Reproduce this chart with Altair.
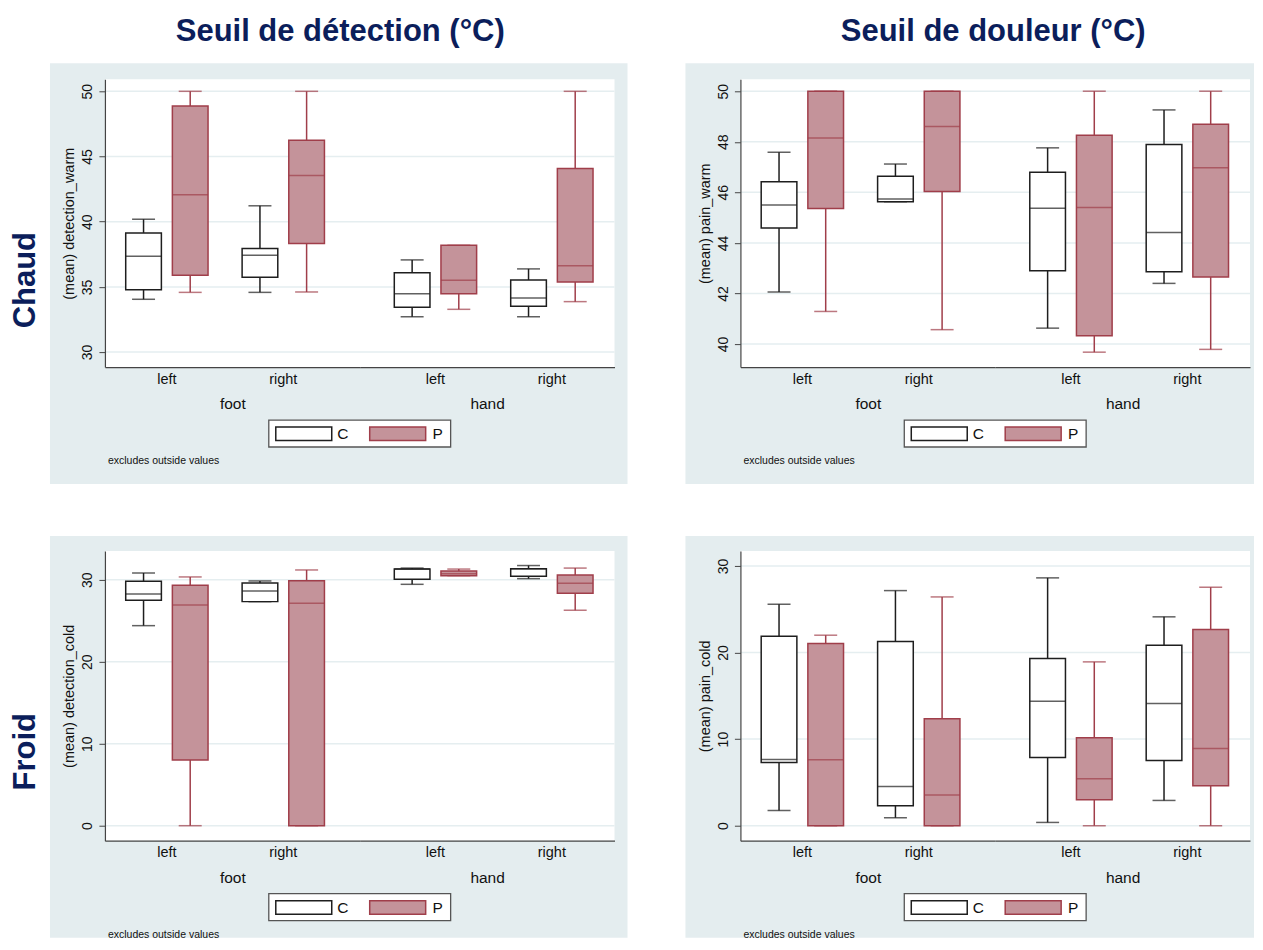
import altair as alt
import pandas as pd

# ---------------- data ----------------
sites = ["foot", "foot", "foot", "foot", "hand", "hand", "hand", "hand"]
sides = ["left", "left", "right", "right", "left", "left", "right", "right"]
groups = ["C", "P", "C", "P", "C", "P", "C", "P"]

# Seuil de détection – chaud : (mean) detection_warm
dw_lo = [34.05, 34.58, 34.58, 34.61, 32.71, 33.28, 32.71, 33.87]
dw_q1 = [34.79, 35.89, 35.74, 38.32, 33.43, 34.48, 33.51, 35.38]
dw_med = [37.35, 42.06, 37.43, 43.55, 34.48, 35.51, 34.15, 36.63]
dw_q3 = [39.14, 48.87, 37.94, 46.24, 36.09, 38.19, 35.53, 44.08]
dw_hi = [40.19, 50.00, 41.22, 50.00, 37.07, 38.19, 36.38, 50.00]

# Seuil de douleur – chaud : (mean) pain_warm
pw_lo = [42.06, 41.29, 45.63, 40.57, 40.63, 39.68, 42.40, 39.79]
pw_q1 = [44.59, 45.36, 45.63, 46.03, 42.90, 40.33, 42.86, 42.65]
pw_med = [45.50, 48.15, 45.74, 48.60, 45.37, 45.40, 44.41, 46.97]
pw_q3 = [46.42, 50.00, 46.64, 50.00, 46.79, 48.26, 47.89, 48.69]
pw_hi = [47.59, 50.00, 47.12, 50.00, 47.76, 50.00, 49.26, 50.00]

# Seuil de détection – froid : (mean) detection_cold
dc_lo = [24.39, 0.00, 27.32, 0.00, 29.43, 30.49, 30.12, 26.27]
dc_q1 = [27.48, 8.01, 27.32, 0.00, 30.04, 30.49, 30.40, 28.33]
dc_med = [28.25, 26.91, 28.62, 27.11, 31.29, 30.73, 31.34, 29.55]
dc_q3 = [29.80, 29.31, 29.59, 29.88, 31.29, 31.05, 31.34, 30.56]
dc_hi = [30.81, 30.33, 29.84, 31.18, 31.41, 31.29, 31.72, 31.41]

# Seuil de douleur – froid : (mean) pain_cold
pc_lo = [1.77, 0.00, 0.92, 0.00, 0.38, 0.00, 2.92, 0.00]
pc_q1 = [7.31, 0.00, 2.31, 0.00, 7.88, 3.00, 7.54, 4.62]
pc_med = [7.65, 7.62, 4.54, 3.54, 14.38, 5.42, 14.12, 8.92]
pc_q3 = [21.88, 21.04, 21.27, 12.35, 19.31, 10.15, 20.85, 22.65]
pc_hi = [25.58, 22.00, 27.15, 26.42, 28.62, 18.92, 24.12, 27.54]

ticks_dw = [30, 35, 40, 45, 50]
ticks_pw = [40, 42, 44, 46, 48, 50]
ticks_dc = [0, 10, 20, 30]
ticks_pc = [0, 10, 20, 30]

group_names = ["C", "P"]

# ---------------- styles ----------------
FONT = "Liberation Sans"
BG = "#e4edef"
GRID = "#e5eef0"
P_FILL = "#c4939a"
P_STROKE = "#a03e4a"
C_STROKE = "#1e1e1e"
AXIS = "#444444"
NAVY = "#0b1e5b"
SW = 1.5

PLOT_W = 510
SUB_W = 255


def panel(ytitle, lo, q1, med, q3, hi, ydomain, yticks, H,
          title=None, title_x=0, rowlabel=None, bg_right=13, bg_top=-16, bg_bottom=117):
    df = pd.DataFrame({"site": sites, "side": sides, "grp": groups,
                       "lo": lo, "q1": q1, "med": med, "q3": q3, "hi": hi})
    one = pd.DataFrame({"k": [0]})
    yscale = alt.Scale(domain=ydomain, nice=False, zero=False)
    yaxis = alt.Axis(title=ytitle, values=yticks, grid=False, tickSize=6,
                     tickColor=AXIS, domainColor=AXIS, tickWidth=1, domainWidth=1.2,
                     labelAngle=270, labelFontSize=14, labelColor="#111",
                     labelFont=FONT, labelPadding=4, titleFont=FONT,
                     titleFontSize=14.5, titleFontWeight="normal",
                     titleColor="#111", titlePadding=4, zindex=1)
    fill_enc = alt.Fill("grp:N", scale=alt.Scale(domain=group_names, range=["white", P_FILL]), legend=None)
    stroke_enc = alt.Stroke("grp:N", scale=alt.Scale(domain=group_names, range=[C_STROKE, P_STROKE]), legend=None)
    color_enc = alt.Color("grp:N", scale=alt.Scale(domain=group_names, range=[C_STROKE, P_STROKE]), legend=None)

    subs = []
    for site, align in [("foot", 0.3708), ("hand", 0.6168)]:
        d = df[df["site"] == site]
        xaxis = alt.Axis(title=site, labelAngle=0, ticks=False, grid=False,
                         domainColor=AXIS, domainWidth=1.2, labelFontSize=14.5,
                         labelFont=FONT, labelColor="#111", labelPadding=5,
                         titleFont=FONT, titleFontSize=15.5, titleFontWeight="normal",
                         titleColor="#111", titlePadding=11, zindex=1)
        xenc = alt.X("side:N", scale=alt.Scale(domain=["left", "right"], paddingInner=0.2927,
                                               paddingOuter=0.2408, align=align, round=False),
                     axis=xaxis)
        xoff = alt.XOffset("grp:N", scale=alt.Scale(domain=group_names, paddingInner=0.2355,
                                                    paddingOuter=0, round=False))
        yax = yaxis if site == "foot" else None

        def Y(field):
            if yax is None:
                return alt.Y(field + ":Q", scale=yscale, axis=None)
            return alt.Y(field + ":Q", scale=yscale, axis=yax)

        base = alt.Chart(d)
        layers = []
        if site == "foot":
            # panel background and plot region
            layers.append(alt.Chart(one).mark_rect(fill=BG).encode(
                x=alt.value(-55), x2=alt.value(PLOT_W + bg_right),
                y=alt.value(bg_top), y2=alt.value(H + bg_bottom)))
            layers.append(alt.Chart(one).mark_rect(fill="white").encode(
                x=alt.value(0), x2=alt.value(PLOT_W), y=alt.value(0), y2=alt.value(H)))
            layers.append(alt.Chart(pd.DataFrame({"t": yticks})).mark_rule(
                color=GRID, strokeWidth=1.5).encode(
                y=Y("t"), x=alt.value(0), x2=alt.value(PLOT_W)))
        # whiskers
        layers.append(base.mark_rule(strokeWidth=SW).encode(
            x=xenc, xOffset=xoff, y=Y("lo"), y2="q1:Q", color=color_enc))
        layers.append(base.mark_rule(strokeWidth=SW).encode(
            x=xenc, xOffset=xoff, y=Y("q3"), y2="hi:Q", color=color_enc))
        layers.append(base.mark_tick(size=23, thickness=SW, orient="horizontal").encode(
            x=xenc, xOffset=xoff, y=Y("lo"), color=color_enc))
        layers.append(base.mark_tick(size=23, thickness=SW, orient="horizontal").encode(
            x=xenc, xOffset=xoff, y=Y("hi"), color=color_enc))
        # boxes
        layers.append(base.mark_bar(strokeWidth=SW).encode(
            x=xenc, xOffset=xoff, y=Y("q1"), y2="q3:Q", fill=fill_enc, stroke=stroke_enc))
        # medians
        layers.append(base.mark_tick(size=35.7, thickness=SW, orient="horizontal").encode(
            x=xenc, xOffset=xoff, y=Y("med"), color=color_enc))
        if site == "foot":
            # legend box
            layers.append(alt.Chart(one).mark_rect(fill="white", stroke="#555555", strokeWidth=1.3).encode(
                x=alt.value(164), x2=alt.value(346), y=alt.value(H + 53), y2=alt.value(H + 80)))
            layers.append(alt.Chart(one).mark_rect(fill="white", stroke=C_STROKE, strokeWidth=SW).encode(
                x=alt.value(171), x2=alt.value(227), y=alt.value(H + 60), y2=alt.value(H + 73.5)))
            layers.append(alt.Chart(one).mark_rect(fill=P_FILL, stroke=P_STROKE, strokeWidth=SW).encode(
                x=alt.value(265), x2=alt.value(321), y=alt.value(H + 60), y2=alt.value(H + 73.5)))
            layers.append(alt.Chart(one).mark_text(text=group_names[0], font=FONT, fontSize=15.5,
                                                    color="#111", align="center", baseline="middle").encode(
                x=alt.value(238), y=alt.value(H + 67)))
            layers.append(alt.Chart(one).mark_text(text=group_names[1], font=FONT, fontSize=15.5,
                                                    color="#111", align="center", baseline="middle").encode(
                x=alt.value(333), y=alt.value(H + 67)))
            layers.append(alt.Chart(one).mark_text(text="excludes outside values", font=FONT, fontSize=10.5,
                                                    color="#111", align="left", baseline="middle").encode(
                x=alt.value(3), y=alt.value(H + 94)))
            if title is not None:
                layers.append(alt.Chart(one).mark_text(text=title, font=FONT, fontSize=31, fontWeight="bold",
                                                        color=NAVY, align="center", baseline="alphabetic").encode(
                    x=alt.value(title_x), y=alt.value(-38)))
            if rowlabel is not None:
                layers.append(alt.Chart(one).mark_text(text=rowlabel, font=FONT, fontSize=31, fontWeight="bold",
                                                        color=NAVY, align="center", baseline="middle",
                                                        angle=270).encode(
                    x=alt.value(-79), y=alt.value(201)))
        subs.append(alt.layer(*layers).properties(width=SUB_W, height=H))
    return alt.hconcat(*subs, spacing=0, bounds="flush")


p1 = panel("(mean) detection_warm", dw_lo, dw_q1, dw_med, dw_q3, dw_hi, [28.85, 50.92], ticks_dw, 288,
           title="Seuil de détection (°C)", title_x=235.5, rowlabel="Chaud")
p2 = panel("(mean) pain_warm", pw_lo, pw_q1, pw_med, pw_q3, pw_hi, [39.09, 50.47], ticks_pw, 288,
           title="Seuil de douleur (°C)", title_x=253, bg_right=4)
p3 = panel("(mean) detection_cold", dc_lo, dc_q1, dc_med, dc_q3, dc_hi, [-1.83, 33.5], ticks_dc, 290,
           rowlabel="Froid", bg_top=-15, bg_bottom=97)
p4 = panel("(mean) pain_cold", pc_lo, pc_q1, pc_med, pc_q3, pc_hi, [-1.73, 31.73], ticks_pc, 290,
           bg_right=4, bg_top=-15, bg_bottom=97)

chart = alt.vconcat(
    alt.hconcat(p1, p2, spacing=56),
    alt.hconcat(p3, p4, spacing=56),
    spacing=50,
).properties(
    padding={"left": 1, "top": 7, "right": 0, "bottom": 0}
).configure(font=FONT).configure_view(stroke="transparent")

chart.save("out.html", embed_options={"renderer": "svg", "actions": False})
